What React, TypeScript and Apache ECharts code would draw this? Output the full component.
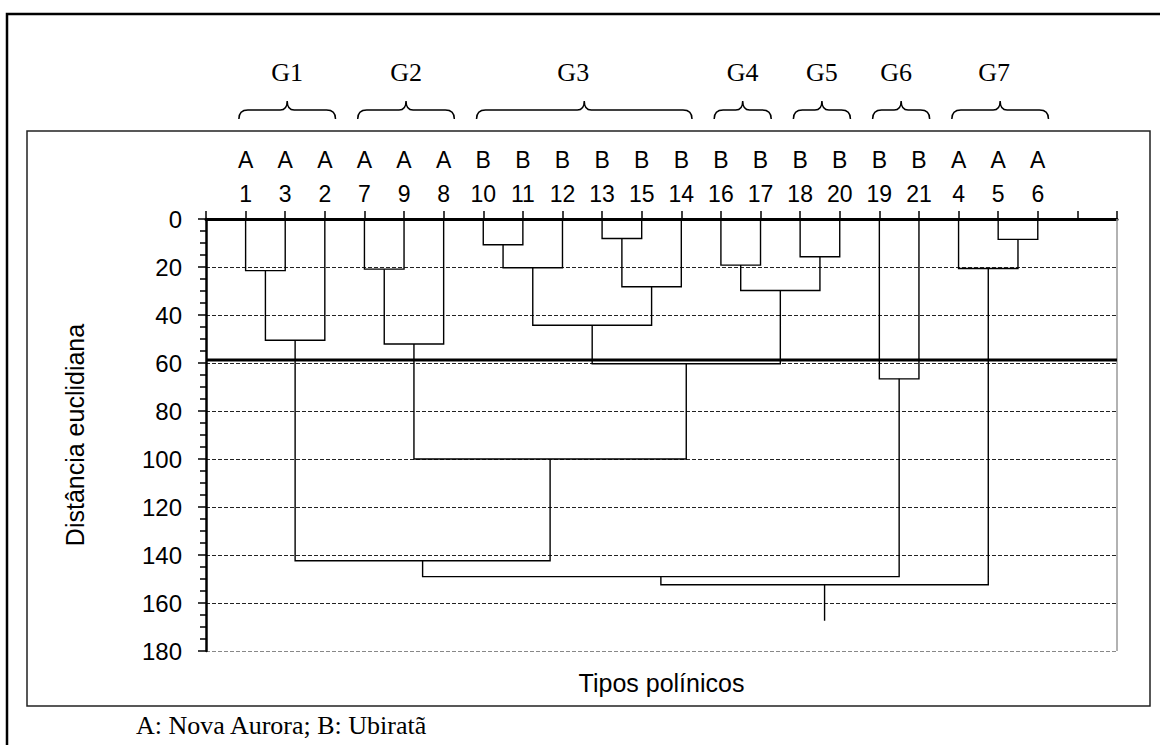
import React, { useEffect, useRef } from 'react';
import * as echarts from 'echarts';

// ---- data ----
const leafIds = ['1', '3', '2', '7', '9', '8', '10', '11', '12', '13', '15', '14', '16', '17', '18', '20', '19', '21', '4', '5', '6'];
const leafSites = ['A', 'A', 'A', 'A', 'A', 'A', 'B', 'B', 'B', 'B', 'B', 'B', 'B', 'B', 'B', 'B', 'B', 'B', 'A', 'A', 'A'];
// node ids: 0..20 leaves (in plotted order), 21+k = k-th merge
const mergeLeft = [0, 21, 3, 23, 6, 25, 9, 27, 26, 12, 14, 30, 29, 24, 22, 16, 35, 19, 18, 37];
const mergeRight = [1, 2, 4, 5, 7, 8, 10, 11, 28, 13, 15, 31, 32, 33, 34, 17, 36, 20, 38, 39];
const mergeHeights = [21.5, 50.5, 20.9, 52.1, 10.7, 20.3, 8.1, 28.2, 44.3, 19.2, 15.7, 29.8, 60.3, 100.0, 142.4, 66.6, 149.0, 8.5, 20.6, 152.4];
const rootStemEnd = 167.4;
const cutHeight = 58.7;
const yTicks = [0, 20, 40, 60, 80, 100, 120, 140, 160, 180];
const groupNames = ['G1', 'G2', 'G3', 'G4', 'G5', 'G6', 'G7'];
const groupFirstLeaf = [1, 4, 7, 13, 15, 17, 19];
const groupLastLeaf = [3, 6, 12, 14, 16, 18, 21];
const yAxisTitle = 'Distância euclidiana';
const xAxisTitle = 'Tipos polínicos';
const caption = 'A: Nova Aurora; B: Ubiratã';

// label nudges (px), styling only
const groupLabelNudge = [0, 0, -11, 0, 0, -5, -6];

const SANS = '"Liberation Sans", Arial, sans-serif';
const SERIF = '"Liberation Serif", "Times New Roman", serif';

const Brace = (echarts as any).graphic.extendShape({
  type: 'brace',
  shape: { x0: 0, x1: 0, yBar: 0, yEnd: 0, yPeak: 0, r: 8, rc: 6 },
  buildPath(ctx: any, s: any) {
    const cx = (s.x0 + s.x1) / 2;
    ctx.moveTo(s.x0, s.yEnd);
    ctx.quadraticCurveTo(s.x0, s.yBar, s.x0 + s.r, s.yBar);
    ctx.lineTo(cx - s.rc, s.yBar);
    ctx.quadraticCurveTo(cx, s.yBar, cx, s.yPeak);
    ctx.quadraticCurveTo(cx, s.yBar, cx + s.rc, s.yBar);
    ctx.lineTo(s.x1 - s.r, s.yBar);
    ctx.quadraticCurveTo(s.x1, s.yBar, s.x1, s.yEnd);
  },
});
(echarts as any).graphic.registerShape('brace', Brace);

function buildLinks() {
  const nx: number[] = [];
  const nh: number[] = [];
  leafIds.forEach((_, i) => {
    nx[i] = i + 1;
    nh[i] = 0;
  });
  const links: any[] = [];
  mergeHeights.forEach((h, k) => {
    const l = mergeLeft[k];
    const r = mergeRight[k];
    const id = leafIds.length + k;
    nx[id] = (nx[l] + nx[r]) / 2;
    nh[id] = h;
    links.push({
      coords: [
        [nx[l], nh[l]],
        [nx[l], h],
        [nx[r], h],
        [nx[r], nh[r]],
      ],
    });
  });
  const rootId = leafIds.length + mergeHeights.length - 1;
  links.push({ coords: [[nx[rootId], nh[rootId]], [nx[rootId], rootStemEnd]] });
  return links;
}

export default function App() {
  const ref = useRef<HTMLDivElement>(null);
  useEffect(() => {
    const chart = echarts.init(ref.current!, null, { renderer: 'svg' });
    const xMax = leafIds.length + 2;
    const option: any = {
      animation: false,
      backgroundColor: '#fff',
      grid: { left: 206, right: 43, top: 219, bottom: 94, outerBoundsMode: 'none' },
      xAxis: {
        type: 'value',
        position: 'top',
        min: 0,
        max: xMax,
        interval: 1,
        axisLine: { show: true, lineStyle: { color: '#000', width: 3 } },
        axisTick: { show: true, length: 8, lineStyle: { color: '#000', width: 1.5 } },
        splitLine: { show: false },
        axisLabel: {
          margin: 8,
          fontSize: 23,
          lineHeight: 34,
          color: '#000',
          fontFamily: SANS,
          formatter: (v: number) => {
            const i = Math.round(v) - 1;
            if (i >= 0 && i < leafIds.length) return leafSites[i] + '\n' + leafIds[i];
            return '';
          },
        },
      },
      yAxis: {
        type: 'value',
        inverse: true,
        min: yTicks[0],
        max: yTicks[yTicks.length - 1],
        interval: 20,
        name: yAxisTitle,
        nameLocation: 'middle',
        nameRotate: 90,
        nameGap: 119,
        nameTextStyle: { fontSize: 25, color: '#000', fontFamily: SANS },
        axisLine: { show: true, lineStyle: { color: '#000', width: 2.5 } },
        axisTick: { show: true, length: 8, lineStyle: { color: '#000', width: 1.5 } },
        minorTick: { show: true, splitNumber: 4, length: 6, lineStyle: { color: '#000', width: 1.5 } },
        axisLabel: { margin: 24, fontSize: 24, color: '#000', fontFamily: SANS },
        splitLine: {
          show: true,
          lineStyle: {
            type: [4, 2],
            width: 1,
            color: ['#000', '#222', '#222', '#222', '#222', '#222', '#222', '#222', '#222', '#888'],
          },
        },
      },
      series: [
        {
          type: 'lines',
          coordinateSystem: 'cartesian2d',
          polyline: true,
          silent: true,
          z: 3,
          lineStyle: { color: '#999', width: 1.5, opacity: 1 },
          data: [{ coords: [[xMax, yTicks[0]], [xMax, yTicks[yTicks.length - 1]]] }],
        },
        {
          type: 'lines',
          coordinateSystem: 'cartesian2d',
          polyline: true,
          silent: true,
          z: 4,
          lineStyle: { color: '#000', width: 1.4, opacity: 1 },
          data: buildLinks(),
        },
        {
          type: 'lines',
          coordinateSystem: 'cartesian2d',
          polyline: true,
          silent: true,
          z: 5,
          lineStyle: { color: '#000', width: 3, opacity: 1 },
          data: [{ coords: [[0, cutHeight], [xMax, cutHeight]] }],
        },
      ],
    };
    chart.setOption(option);

    const px = (x: number, y: number) => chart.convertToPixel({ gridIndex: 0 }, [x, y]) as number[];
    const graphic: any[] = [
      {
        type: 'rect',
        shape: { x: 7, y: 14, width: 1300, height: 900 },
        style: { fill: 'none', stroke: '#000', lineWidth: 2.5 },
        silent: true,
      },
      {
        type: 'rect',
        shape: { x: 27, y: 131, width: 1123, height: 575 },
        style: { fill: 'none', stroke: '#222', lineWidth: 1.5 },
        silent: true,
      },
    ];
    groupNames.forEach((g, i) => {
      const x0 = px(groupFirstLeaf[i] - 0.17, 0)[0];
      const x1 = px(groupLastLeaf[i] + 0.27, 0)[0];
      graphic.push({
        type: 'brace',
        shape: { x0, x1, yBar: 110, yEnd: 119, yPeak: 101, r: 9, rc: 7 },
        style: { fill: 'none', stroke: '#000', lineWidth: 1.5 },
        silent: true,
      });
      graphic.push({
        type: 'text',
        x: (x0 + x1) / 2 + groupLabelNudge[i],
        y: 72,
        style: { text: g, fontSize: 26, fontFamily: SERIF, fill: '#000', align: 'center', verticalAlign: 'middle' },
        silent: true,
      });
    });
    const mid = (px(0, 0)[0] + px(xMax, 0)[0]) / 2;
    graphic.push({
      type: 'text',
      x: mid,
      y: 683,
      style: { text: xAxisTitle, fontSize: 25, fontFamily: SANS, fill: '#000', align: 'center', verticalAlign: 'middle' },
      silent: true,
    });
    graphic.push({
      type: 'text',
      x: 136,
      y: 725,
      style: { text: caption, fontSize: 26, fontFamily: SERIF, fill: '#000', align: 'left', verticalAlign: 'middle' },
      silent: true,
    });
    chart.setOption({ graphic });
    return () => chart.dispose();
  }, []);
  return (
    <div
      ref={ref}
      style={{ position: 'fixed', left: 0, top: 0, width: 1160, height: 745, background: '#fff' }}
    />
  );
}
